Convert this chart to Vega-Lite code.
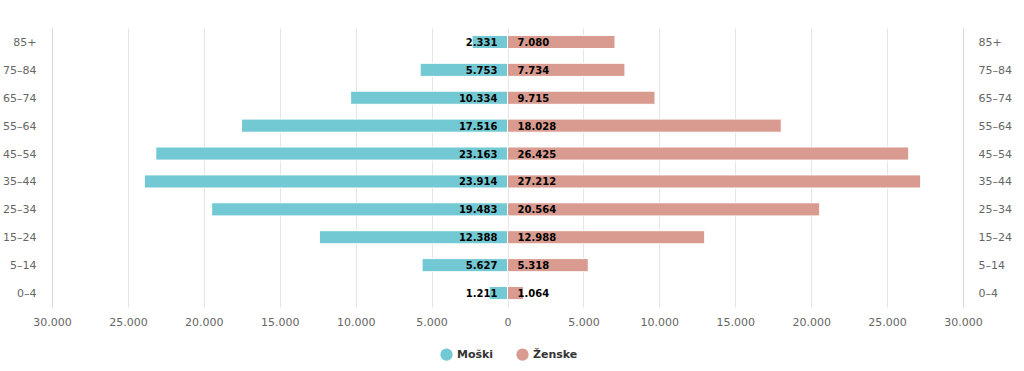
{
  "$schema": "https://vega.github.io/schema/vega-lite/v6.json",
  "width": 911,
  "height": 279,
  "autosize": {"type": "none"},
  "padding": {"left": 52, "top": 28, "right": 61, "bottom": 64},
  "config": {
    "view": {"stroke": null},
    "font": "DejaVu Sans",
    "locale": {"number": {"decimal": ",", "thousands": ".", "grouping": [3], "currency": ["", " €"]}}
  },
  "data": {
    "values": [
      {"age": "85+", "sex": "Moški", "value": 2331},
      {"age": "85+", "sex": "Ženske", "value": 7080},
      {"age": "75–84", "sex": "Moški", "value": 5753},
      {"age": "75–84", "sex": "Ženske", "value": 7734},
      {"age": "65–74", "sex": "Moški", "value": 10334},
      {"age": "65–74", "sex": "Ženske", "value": 9715},
      {"age": "55–64", "sex": "Moški", "value": 17516},
      {"age": "55–64", "sex": "Ženske", "value": 18028},
      {"age": "45–54", "sex": "Moški", "value": 23163},
      {"age": "45–54", "sex": "Ženske", "value": 26425},
      {"age": "35–44", "sex": "Moški", "value": 23914},
      {"age": "35–44", "sex": "Ženske", "value": 27212},
      {"age": "25–34", "sex": "Moški", "value": 19483},
      {"age": "25–34", "sex": "Ženske", "value": 20564},
      {"age": "15–24", "sex": "Moški", "value": 12388},
      {"age": "15–24", "sex": "Ženske", "value": 12988},
      {"age": "5–14", "sex": "Moški", "value": 5627},
      {"age": "5–14", "sex": "Ženske", "value": 5318},
      {"age": "0–4", "sex": "Moški", "value": 1211},
      {"age": "0–4", "sex": "Ženske", "value": 1064}
    ]
  },
  "transform": [
    {"calculate": "datum.sex === 'Moški' ? -datum.value : datum.value", "as": "x"}
  ],
  "layer": [
    {
      "mark": {"type": "bar", "stroke": "white", "strokeWidth": 1},
      "encoding": {
        "y": {
          "field": "age", "type": "nominal",
          "sort": ["85+", "75–84", "65–74", "55–64", "45–54", "35–44", "25–34", "15–24", "5–14", "0–4"],
          "scale": {"paddingInner": 0.53, "paddingOuter": 0.265},
          "axis": {"title": null, "orient": "left", "domain": true, "domainColor": "#ccd6eb", "ticks": false, "grid": false, "labelColor": "#666666", "labelFontSize": 11, "labelPadding": 16, "labelBaseline": "middle", "labelOffset": 1}
        },
        "x": {
          "field": "x", "type": "quantitative",
          "scale": {"domain": [-30000, 30000], "nice": false},
          "axis": {
            "title": null, "values": [-30000, -25000, -20000, -15000, -10000, -5000, 0, 5000, 10000, 15000, 20000, 25000, 30000],
            "labelExpr": "format(abs(datum.value), ',d')",
            "labelFlush": false, "labelOverlap": false, "labelBound": false,
            "domain": false, "ticks": false, "grid": true,
            "gridColor": {"condition": {"test": "abs(datum.value) == 30000", "value": "#ccd6eb"}, "value": "#e6e6e6"},
            "labelColor": "#666666", "labelFontSize": 11, "labelPadding": 9
          }
        },
        "color": {
          "field": "sex", "type": "nominal",
          "scale": {"domain": ["Moški", "Ženske"], "range": ["#72c9d3", "#d99a8f"]},
          "legend": {"title": null, "orient": "none", "legendX": 388, "legendY": 320, "direction": "horizontal", "symbolType": "circle", "symbolSize": 150, "symbolStrokeWidth": 0, "labelFontWeight": "bold", "labelFontSize": 11, "labelColor": "#333333", "columnPadding": 22}
        }
      }
    },
    {
      "transform": [{"filter": "datum.sex === 'Moški'"}],
      "mark": {"type": "text", "align": "right", "dx": -10, "dy": 1, "fontWeight": "bold", "fontSize": 10, "color": "#000000"},
      "encoding": {
        "y": {
          "field": "age", "type": "nominal",
          "sort": ["85+", "75–84", "65–74", "55–64", "45–54", "35–44", "25–34", "15–24", "5–14", "0–4"],
          "axis": {"title": null, "orient": "right", "domain": true, "domainColor": "#ccd6eb", "ticks": false, "grid": false, "labelColor": "#666666", "labelFontSize": 11, "labelPadding": 15, "labelBaseline": "middle", "labelOffset": 1}
        },
        "x": {"datum": 0, "type": "quantitative"},
        "text": {"field": "value", "type": "quantitative", "format": ",d"}
      }
    },
    {
      "transform": [{"filter": "datum.sex === 'Ženske'"}],
      "mark": {"type": "text", "align": "left", "dx": 10, "dy": 1, "fontWeight": "bold", "fontSize": 10, "color": "#000000"},
      "encoding": {
        "y": {
          "field": "age", "type": "nominal",
          "sort": ["85+", "75–84", "65–74", "55–64", "45–54", "35–44", "25–34", "15–24", "5–14", "0–4"],
          "axis": null
        },
        "x": {"datum": 0, "type": "quantitative"},
        "text": {"field": "value", "type": "quantitative", "format": ",d"}
      }
    }
  ],
  "resolve": {"axis": {"y": "independent"}}
}
